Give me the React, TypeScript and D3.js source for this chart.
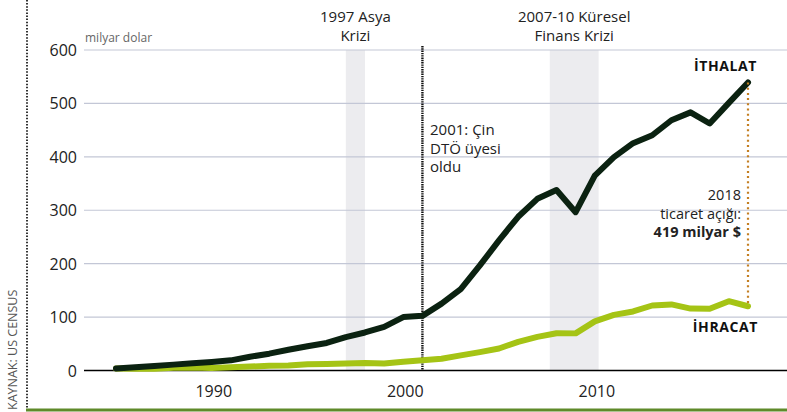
import React from 'react';
import * as d3 from 'd3';

// US-China trade, billion dollars
const years = [1985, 1986, 1987, 1988, 1989, 1990, 1991, 1992, 1993, 1994, 1995, 1996,
	1997, 1998, 1999, 2000, 2001, 2002, 2003, 2004, 2005, 2006, 2007, 2008, 2009, 2010,
	2011, 2012, 2013, 2014, 2015, 2016, 2017, 2018];
const imports = [3.9, 6.2, 8.5, 11, 13.5, 16, 19, 25.7, 31.5, 38.8, 45.5, 51.5,
	62.6, 71.2, 81.8, 100, 102.3, 125.2, 152.4, 196.7, 243.5, 287.8, 321.4, 337.8, 296.4, 364.9,
	399.4, 425.6, 440.4, 468.5, 483.2, 462.4, 501, 539.2];
const exportsUS = [3.9, 3.1, 3.5, 5, 5.8, 4.8, 6.3, 7.4, 8.8, 9.3, 11.8, 12,
	12.9, 14.2, 13.1, 16.2, 19.2, 22.1, 28.4, 34.4, 41.2, 53.7, 62.9, 69.7, 69.5, 91.9,
	104.1, 110.5, 121.7, 123.7, 115.9, 115.6, 129.8, 120.3];
const yTicks = [0, 100, 200, 300, 400, 500, 600];
const xTicks = [1990, 2000, 2010];
const crises = [
	{ from: 1997, to: 1998, label: ['1997 Asya', 'Krizi'] },
	{ from: 2007.65, to: 2010.2, label: ['2007-10 Küresel', 'Finans Krizi'] },
];
const wtoYear = 2001;
const wtoLabel = ['2001: Çin', 'DTÖ üyesi', 'oldu'];
const gapLabel = ['2018', 'ticaret açığı:', '419 milyar $'];

const FONT = "'Open Sans', sans-serif";

export default function App() {
	const width = 787;
	const height = 412;
	const x = d3.scaleLinear().domain([1985, 2018]).range([116, 748]);
	const y = d3.scaleLinear().domain([0, 600]).range([370.5, 50]);
	const gridLeft = 84;

	const line = d3.line<number>()
		.x((d, i) => x(years[i]))
		.y(d => y(d));

	const lastYear = years[years.length - 1];
	const lastImp = imports[imports.length - 1];
	const lastExp = exportsUS[exportsUS.length - 1];

	return (
		<svg width={width} height={height} style={{ position: 'absolute', left: 0, top: 0 }} fontFamily={FONT}>
			<rect width={width} height={height} fill="#fff" />

			{/* crisis shading */}
			{crises.map((c, i) => (
				<g key={i}>
					<rect x={x(c.from)} y={y(600)} width={x(c.to) - x(c.from)} height={y(0) - y(600)} fill="#ececef" />
					{c.label.map((t, j) => (
						<text key={j} x={(x(c.from) + x(c.to)) / 2} y={22 + j * 19} textAnchor="middle"
							fontSize={15} fill="#222">{t}</text>
					))}
				</g>
			))}

			{/* grid */}
			{yTicks.map(t => (
				<g key={t}>
					<line x1={gridLeft} x2={width} y1={y(t)} y2={y(t)}
						stroke={t === 0 ? '#000' : '#c3c7d6'} strokeWidth={t === 0 ? 1.5 : 1.2} />
					<text x={77} y={y(t) + 6} textAnchor="end" fontSize={16} fill="#222">{t}</text>
				</g>
			))}
			<text x={85} y={42} fontSize={12} fill="#666">milyar dolar</text>

			{xTicks.map(t => (
				<text key={t} x={x(t) + 2} y={397} textAnchor="middle" fontSize={16} fill="#222">{t}</text>
			))}

			{/* WTO line */}
			<line x1={x(wtoYear)} x2={x(wtoYear)} y1={46} y2={y(0)} stroke="#111" strokeWidth={2.4} strokeDasharray="1.4 0.9" />
			{wtoLabel.map((t, j) => (
				<text key={j} x={430} y={135 + j * 18.5} fontSize={15} fill="#222">{t}</text>
			))}

			{/* series */}
			<path d={line(exportsUS) || ''} fill="none" stroke="#a5c415" strokeWidth={6} strokeLinejoin="round" strokeLinecap="round" />
			<path d={line(imports) || ''} fill="none" stroke="#0b2211" strokeWidth={6} strokeLinejoin="round" strokeLinecap="round" />

			{/* trade gap */}
			<line x1={x(lastYear)} x2={x(lastYear)} y1={y(lastImp)} y2={y(lastExp)}
				stroke="#c47f22" strokeWidth={2.2} strokeDasharray="2 3.2" />
			{gapLabel.map((t, j) => (
				<text key={j} x={741} y={200 + j * 18.5} textAnchor="end" fontSize={14.5}
					fontWeight={j === 2 ? 700 : 400} fill="#222">{t}</text>
			))}
			<text x={757} y={71} textAnchor="end" fontSize={14} fontWeight={700} letterSpacing={0.6} fill="#111">İTHALAT</text>
			<text x={758} y={332} textAnchor="end" fontSize={14} fontWeight={700} letterSpacing={0.6} fill="#111">İHRACAT</text>

			{/* frame: source + bottom rule */}
			<line x1={27} x2={27} y1={0} y2={409} stroke="#333" strokeWidth={2} strokeDasharray="1.5 1.6" />
			<line x1={26} x2={width} y1={410} y2={410} stroke="#5f8a2a" strokeWidth={3} />
			<text transform="translate(17,410) rotate(-90)" fontSize={12.5} fill="#555">KAYNAK: US CENSUS</text>
		</svg>
	);
}
